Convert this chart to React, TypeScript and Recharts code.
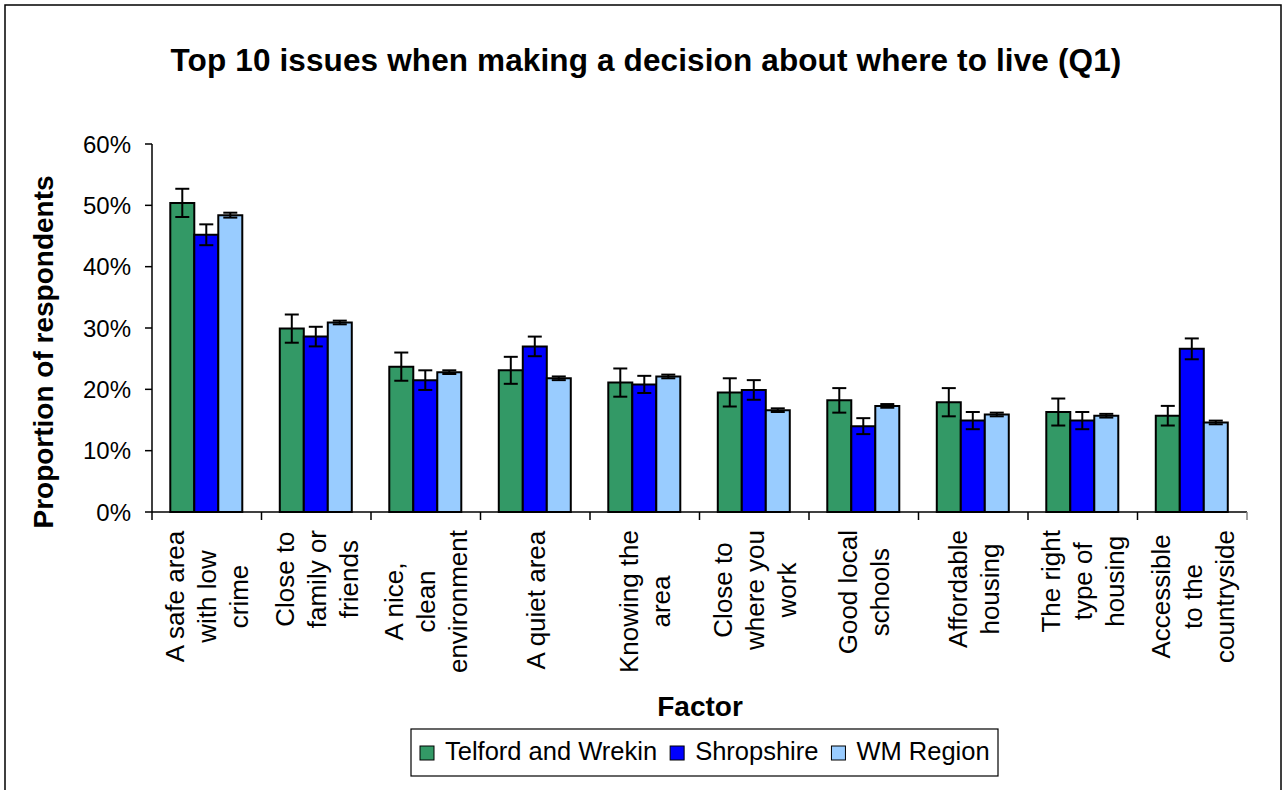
import { Bar, BarChart, ErrorBar, XAxis, YAxis } from "recharts";

const categories = [
  "A safe area with low crime",
  "Close to family or friends",
  "A nice, clean environment",
  "A quiet area",
  "Knowing the area",
  "Close to where you work",
  "Good local schools",
  "Affordable housing",
  "The right type of housing",
  "Accessible to the countryside",
];

// tick labels as they wrap on the axis
const categoryLines = [
  ["A safe area", "with low", "crime"],
  ["Close to", "family or", "friends"],
  ["A nice,", "clean", "environment"],
  ["A quiet area"],
  ["Knowing the", "area"],
  ["Close to", "where you", "work"],
  ["Good local", "schools"],
  ["Affordable", "housing"],
  ["The right", "type of", "housing"],
  ["Accessible", "to the", "countryside"],
];

const telford = [50.4, 29.9, 23.7, 23.1, 21.1, 19.5, 18.2, 17.9, 16.3, 15.7];
const telfordErr = [2.3, 2.3, 2.3, 2.2, 2.3, 2.3, 2.0, 2.3, 2.2, 1.6];
const shropshire = [45.2, 28.6, 21.5, 27.0, 20.8, 19.9, 14.0, 14.9, 14.9, 26.6];
const shropshireErr = [1.7, 1.6, 1.6, 1.6, 1.4, 1.6, 1.3, 1.4, 1.4, 1.7];
const wmRegion = [48.4, 30.9, 22.8, 21.8, 22.1, 16.6, 17.3, 15.9, 15.7, 14.6];
const wmRegionErr = [0.4, 0.3, 0.3, 0.3, 0.3, 0.3, 0.3, 0.3, 0.3, 0.3];
const yTicks = [0, 10, 20, 30, 40, 50, 60];

const seriesNames = ["Telford and Wrekin", "Shropshire", "WM Region"];
const seriesColors = ["#339966", "#0000ff", "#99ccff"];

const data = categories.map((name, i) => ({
  name,
  t: telford[i],
  tErr: telfordErr[i],
  s: shropshire[i],
  sErr: shropshireErr[i],
  w: wmRegion[i],
  wErr: wmRegionErr[i],
}));

const W = 1282;
const H = 790;
const FONT = '"Liberation Sans", Arial, sans-serif';
const margin = { top: 144, right: 35, left: 0, bottom: 0 };
const Y_AXIS_W = 152;
const X_AXIS_H = 278;
const plotLeft = margin.left + Y_AXIS_W;
const plotRight = W - margin.right;
const band = (plotRight - plotLeft) / categories.length;

let ctx: CanvasRenderingContext2D | null = null;
function textWidth(s: string, font: string) {
  if (!ctx) ctx = document.createElement("canvas").getContext("2d");
  if (!ctx) return s.length * 12;
  ctx.font = font;
  return ctx.measureText(s).width;
}

const CAT_SIZE = 26;
const CAT_LINE = 32;

function CategoryTick(props: any) {
  const { x, y, payload } = props;
  const idx = categories.indexOf(payload.value);
  const lines = categoryLines[idx] ?? [String(payload.value)];
  const maxW = Math.max(...lines.map((l) => textWidth(l, `${CAT_SIZE}px ${FONT}`)));
  const n = lines.length;
  const half = payload.offset || band / 2;
  return (
    <g>
      <line x1={x - half} x2={x - half} y1={y} y2={y + 8} stroke="#000" strokeWidth={1.5} />
      {idx === categories.length - 1 ? (
        <line x1={x + half} x2={x + half} y1={y} y2={y + 8} stroke="#808080" strokeWidth={1.5} />
      ) : null}
      <g transform={`translate(${x},${y}) rotate(-90)`}>
        {lines.map((l, i) => (
          <text
            key={i}
            x={-(18 + maxW / 2)}
            y={(i - (n - 1) / 2) * CAT_LINE + 9.4}
            textAnchor="middle"
            fontSize={CAT_SIZE}
            fontFamily={FONT}
            fill="#000"
          >
            {l}
          </text>
        ))}
      </g>
    </g>
  );
}

function Overlay() {
  const legendFont = `25.5px ${FONT}`;
  let cursor = 420;
  const items = seriesNames.map((name, i) => {
    const sx = cursor;
    const tx = sx + 25;
    cursor = tx + textWidth(name, legendFont) + 13;
    return { name, color: seriesColors[i], sx, tx };
  });
  return (
    <svg
      width={W}
      height={H}
      style={{ position: "absolute", left: 0, top: 0, pointerEvents: "none" }}
      fontFamily={FONT}
    >
      <rect x={5} y={5} width={1276} height={H} fill="none" stroke="#000" strokeWidth={1.5} />
      <text
        x={646}
        y={71}
        textAnchor="middle"
        fontSize={31.5}
        fontWeight="bold"
        letterSpacing={0.13}
        fill="#000"
      >
        Top 10 issues when making a decision about where to live (Q1)
      </text>
      <text
        x={53}
        y={352}
        transform="rotate(-90, 53, 352)"
        textAnchor="middle"
        fontSize={28}
        fontWeight="bold"
        fill="#000"
      >
        Proportion of respondents
      </text>
      <text x={700} y={716} textAnchor="middle" fontSize={28} fontWeight="bold" fill="#000">
        Factor
      </text>
      <rect x={411} y={729} width={587} height={47} fill="#fff" stroke="#000" strokeWidth={1.2} />
      {items.map((it) => (
        <g key={it.name}>
          <rect x={it.sx} y={746} width={14} height={14} fill={it.color} stroke="#000" strokeWidth={1} />
          <text x={it.tx} y={760} fontSize={25.5} fill="#000">
            {it.name}
          </text>
        </g>
      ))}
    </svg>
  );
}

export default function App() {
  return (
    <div
      style={{
        position: "absolute",
        left: 0,
        top: 0,
        width: W,
        height: H,
        overflow: "hidden",
        background: "#fff",
        fontFamily: FONT,
      }}
    >
      <BarChart width={W} height={H} data={data} margin={margin} barCategoryGap="16.7%" barGap={0}>
        <XAxis
          dataKey="name"
          height={X_AXIS_H}
          interval={0}
          tickSize={0}
          tickMargin={0}
          tickLine={false}
          axisLine={{ stroke: "#000", strokeWidth: 1.5 }}
          tick={<CategoryTick />}
        />
        <XAxis xAxisId="top" dataKey="name" orientation="top" height={0} tick={false} tickLine={false} axisLine={{ stroke: "#808080", strokeWidth: 2 }} />
        <YAxis
          width={Y_AXIS_W}
          domain={[0, 60]}
          ticks={yTicks}
          interval={0}
          tickSize={7}
          tickMargin={14}
          tickFormatter={(v) => `${v}%`}
          tick={{ fill: "#000", fontSize: 24, fontFamily: FONT }}
          tickLine={{ stroke: "#000", strokeWidth: 1.5 }}
          axisLine={{ stroke: "#000", strokeWidth: 1.5 }}
        />
        <YAxis yAxisId="right" orientation="right" width={0} domain={[0, 60]} tick={false} tickLine={false} axisLine={{ stroke: "#808080", strokeWidth: 2 }} />
        <Bar dataKey="t" name={seriesNames[0]} fill={seriesColors[0]} stroke="#000" strokeWidth={2} isAnimationActive={false}>
          <ErrorBar dataKey="tErr" width={7} stroke="#000" strokeWidth={2} isAnimationActive={false} />
        </Bar>
        <Bar dataKey="s" name={seriesNames[1]} fill={seriesColors[1]} stroke="#000" strokeWidth={2} isAnimationActive={false}>
          <ErrorBar dataKey="sErr" width={7} stroke="#000" strokeWidth={2} isAnimationActive={false} />
        </Bar>
        <Bar dataKey="w" name={seriesNames[2]} fill={seriesColors[2]} stroke="#000" strokeWidth={2} isAnimationActive={false}>
          <ErrorBar dataKey="wErr" width={7} stroke="#000" strokeWidth={2} isAnimationActive={false} />
        </Bar>
      </BarChart>
      <Overlay />
    </div>
  );
}
